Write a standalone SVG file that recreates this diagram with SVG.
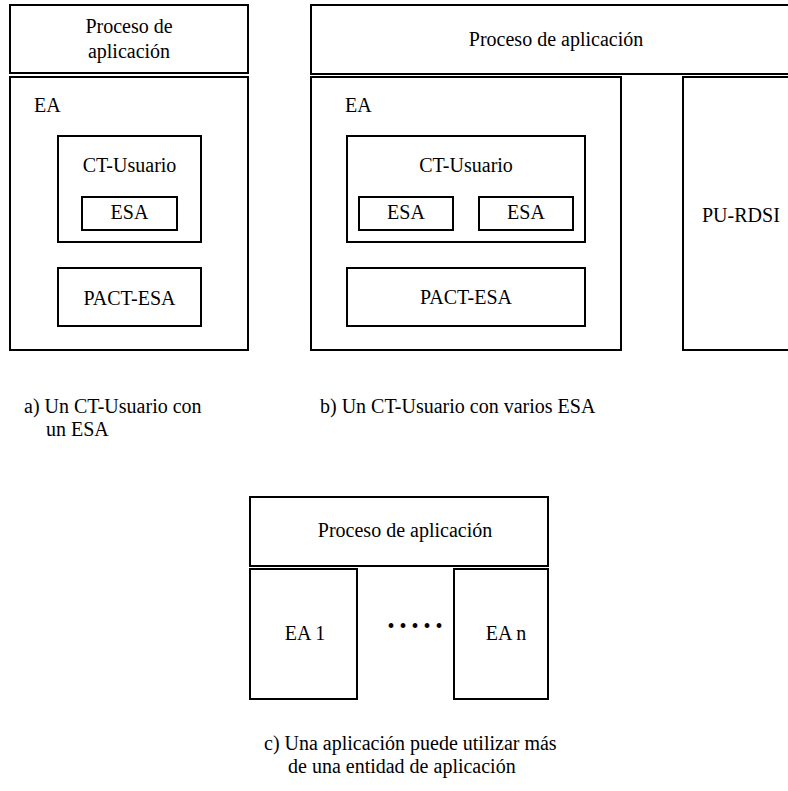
<svg xmlns="http://www.w3.org/2000/svg" width="788" height="791" viewBox="0 0 788 791">
<style>
.b{fill:#fff;stroke:#000;stroke-width:2}
text{font-family:"Liberation Serif","Times New Roman",serif;font-size:20px;fill:#000}
.m{text-anchor:middle}
</style>
<rect width="788" height="791" fill="#fff"/>
<g id="a-proceso"><rect class="b" x="10" y="5" width="238" height="68"/><text class="m" x="129" y="33">Proceso de</text><text class="m" x="129" y="58">aplicación</text></g>
<g id="a-ea"><rect class="b" x="10" y="77" width="238" height="273"/><text x="34" y="112">EA</text></g>
<g id="a-ct"><rect class="b" x="58" y="136" width="143" height="106"/><text class="m" x="129.5" y="172">CT-Usuario</text></g>
<g id="a-esa"><rect class="b" x="82" y="197" width="95" height="33"/><text class="m" x="129.5" y="219">ESA</text></g>
<g id="a-pact"><rect class="b" x="58" y="268" width="143" height="58"/><text class="m" x="129.5" y="305">PACT-ESA</text></g>
<g id="b-proceso"><rect class="b" x="311" y="5" width="490" height="69"/><text class="m" x="556" y="46">Proceso de aplicación</text></g>
<g id="b-ea"><rect class="b" x="311" y="77" width="310" height="273"/><text x="345" y="112">EA</text></g>
<g id="b-ct"><rect class="b" x="347" y="136" width="238" height="106"/><text class="m" x="466" y="172">CT-Usuario</text></g>
<g id="b-esa1"><rect class="b" x="359" y="197" width="94" height="33"/><text class="m" x="406" y="219">ESA</text></g>
<g id="b-esa2"><rect class="b" x="479" y="197" width="94" height="33"/><text class="m" x="526" y="219">ESA</text></g>
<g id="b-pact"><rect class="b" x="347" y="268" width="238" height="58"/><text class="m" x="466" y="304">PACT-ESA</text></g>
<g id="b-pu"><rect class="b" x="683" y="77" width="120" height="273"/><text x="702" y="222">PU-RDSI</text></g>
<g id="captions-ab"><text x="24" y="413">a) Un CT-Usuario con</text><text x="46" y="436">un ESA</text><text x="320" y="413">b) Un CT-Usuario con varios ESA</text></g>
<g id="c-proceso"><rect class="b" x="250" y="497" width="298" height="69"/><text class="m" x="405" y="537">Proceso de aplicación</text></g>
<g id="c-ea1"><rect class="b" x="250" y="569" width="107" height="130"/><text class="m" x="305" y="640">EA 1</text></g>
<g id="c-ean"><rect class="b" x="454" y="569" width="94" height="130"/><text class="m" x="506" y="640">EA n</text></g>
<g id="connectors"></g>
<text class="m" x="415" y="633">• • • • •</text>
<g id="caption-c"><text x="264" y="750">c) Una aplicación puede utilizar más</text><text x="288" y="773">de una entidad de aplicación</text></g>
</svg>
